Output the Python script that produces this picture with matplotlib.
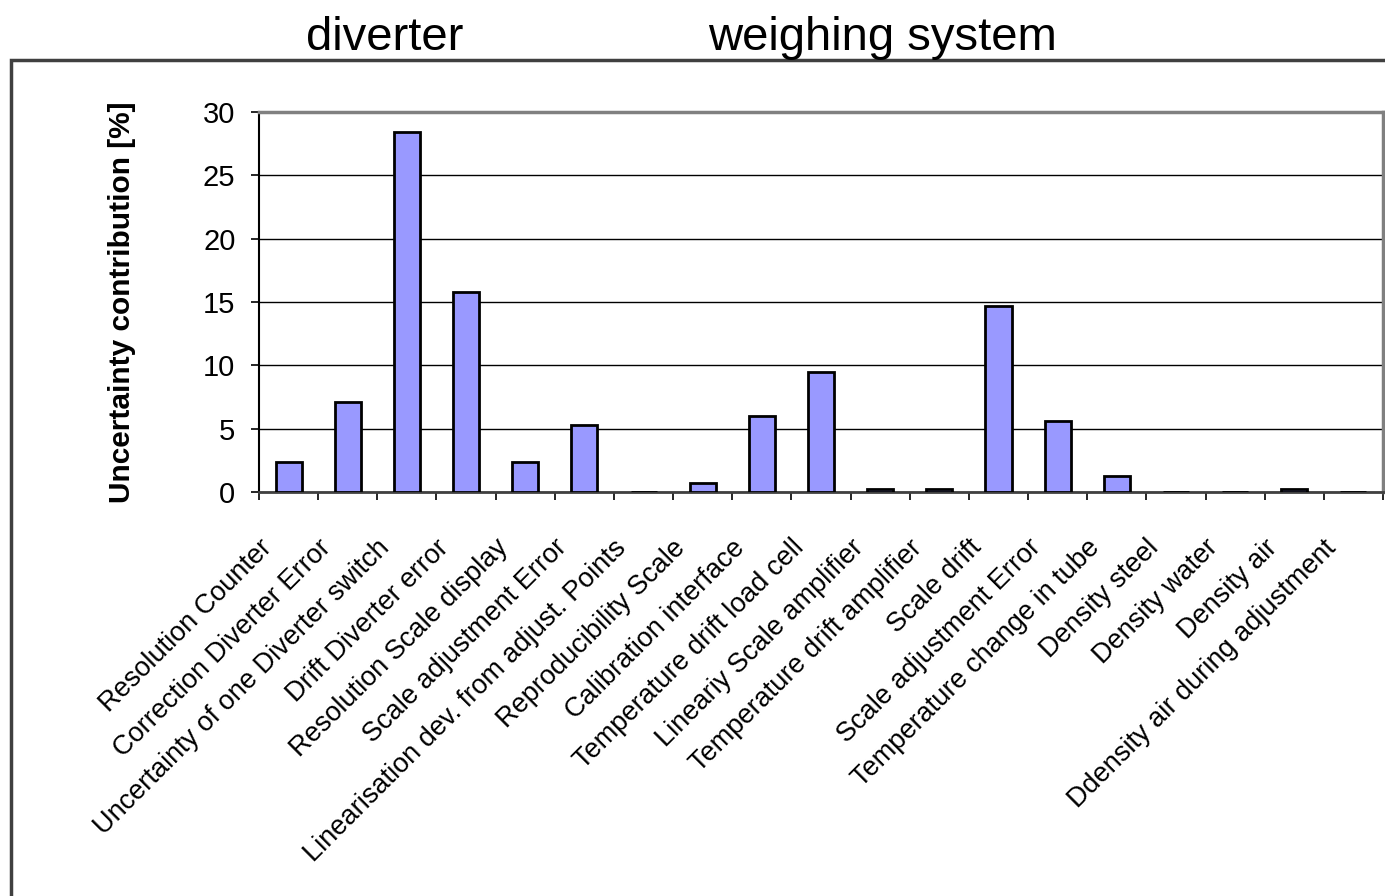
import numpy as np
import matplotlib
matplotlib.use("Agg")
import matplotlib.pyplot as plt
from matplotlib.patches import Rectangle
from matplotlib.transforms import offset_copy

plt.rcParams["font.family"] = ["Liberation Sans", "DejaVu Sans"]

categories = [
    "Resolution Counter",
    "Correction Diverter Error",
    "Uncertainty of one Diverter switch",
    "Drift Diverter error",
    "Resolution Scale display",
    "Scale adjustment Error",
    "Linearisation dev. from adjust. Points",
    "Reproducibility Scale",
    "Calibration interface",
    "Temperature drift load cell",
    "Lineariy Scale amplifier",
    "Temperature drift amplifier",
    "Scale drift",
    "Scale adjustment Error",
    "Temperature change in tube",
    "Density steel",
    "Density water",
    "Density air",
    "Ddensity air during adjustment",
]
contribution = [2.37, 7.08, 28.4, 15.8, 2.37, 5.28, 0.0, 0.71, 6.0, 9.45,
                0.2, 0.2, 14.7, 5.62, 1.27, 0.0, 0.0, 0.2, 0.0]
yticks = [0, 5, 10, 15, 20, 25, 30]

fig = plt.figure(figsize=(13.85, 8.96), dpi=100)
ax = fig.add_axes([0.187, 0.4509, 0.8116, 0.4241])

x = np.arange(len(categories))
ax.bar(x, contribution, width=0.44, color="#9999ff", edgecolor="black",
       linewidth=2, zorder=3)

ax.set_xlim(-0.5, len(categories) - 0.5)
ax.set_ylim(0, 30)
ax.set_yticks(yticks)
ax.set_yticklabels([str(t) for t in yticks], fontsize=21)
ax.grid(axis="y", color="black", linewidth=1, zorder=0)

# ticks between categories, labels at centres
ax.set_xticks(np.arange(len(categories) + 1) - 0.5)
ax.set_xticklabels([])
ax.set_xticks(x, minor=True)
ax.tick_params(axis="x", which="major", direction="out", length=6, width=1.2)
ax.tick_params(axis="x", which="minor", length=0)
ax.tick_params(axis="y", direction="out", length=6, width=1.2, pad=11)
ax.set_xticklabels(categories, minor=True, rotation=45, ha="right",
                   va="top", rotation_mode="anchor", fontsize=19.5)
for lab in ax.get_xticklabels(minor=True):
    lab.set_transform(offset_copy(lab.get_transform(), fig=fig, x=-30, y=-38, units="dots"))

ax.spines["left"].set_color("black")
ax.spines["left"].set_linewidth(1.5)
ax.spines["bottom"].set_color("#404040")
ax.spines["bottom"].set_linewidth(2)
ax.spines["top"].set_color("#808080")
ax.spines["top"].set_linewidth(2.5)
ax.spines["right"].set_color("#808080")
ax.spines["right"].set_linewidth(2.5)

ax.set_ylabel("Uncertainty contribution [%]", fontsize=21.5, fontweight="bold", labelpad=48)

fig.text(0.278, 0.958, "diverter", fontsize=34, ha="center", va="center")
fig.text(0.6375, 0.958, "weighing system", fontsize=34, ha="center", va="center")

fig.patches.append(Rectangle((0.008, -0.1), 1.5, 1.033, transform=fig.transFigure,
                             fill=False, edgecolor="#404040", linewidth=2.5))

fig.savefig("out.png", dpi=100)
